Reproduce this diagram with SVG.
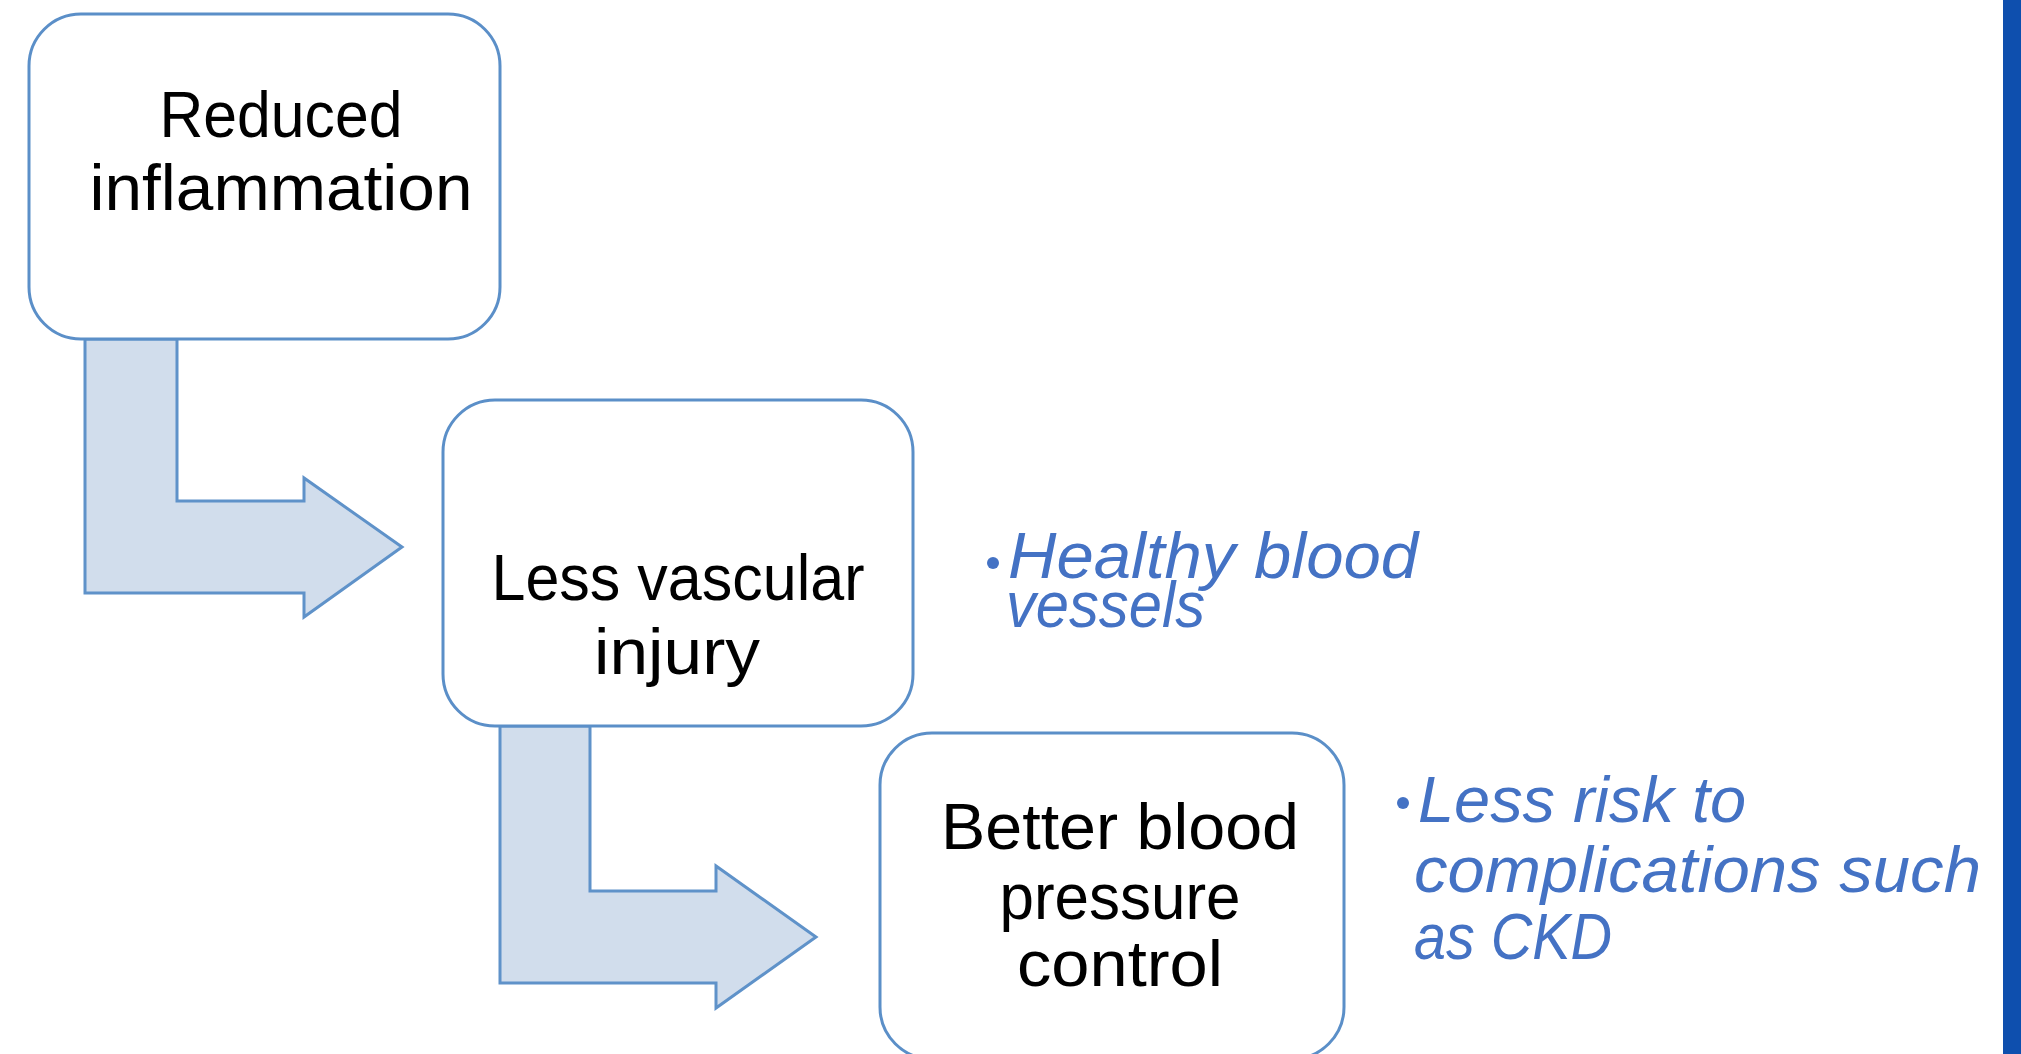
<svg xmlns="http://www.w3.org/2000/svg" width="2021" height="1054" viewBox="0 0 2021 1054">
<style>
.box{fill:#ffffff;stroke:#5b8fc8;stroke-width:3}
.arr{fill:#d1ddec;stroke:#5f92c9;stroke-width:3;stroke-linejoin:miter}
.lbl{font-family:"Liberation Sans",Arial,sans-serif;font-size:65px;fill:#000000;text-anchor:middle}
.note{font-family:"Liberation Sans",Arial,sans-serif;font-style:italic;font-size:64px;fill:#4472c4}
</style>
<rect x="0" y="0" width="2021" height="1054" fill="#ffffff"/>
<rect x="2003" y="0" width="18" height="1054" fill="#0e4fae"/>
<g id="connectors">
<path class="arr" d="M85,339 L177,339 L177,501 L304,501 L304,478 L402,547 L304,617 L304,593 L85,593 Z"/>
<path class="arr" d="M500,726 L590,726 L590,891 L716,891 L716,866 L816,937 L716,1008 L716,983 L500,983 Z"/>
</g>
<g id="node-reduced">
<rect class="box" x="29" y="14" width="471" height="325" rx="52" ry="52"/>
<text class="lbl" x="281" y="137" textLength="243" lengthAdjust="spacingAndGlyphs">Reduced</text>
<text class="lbl" x="281" y="210" textLength="383" lengthAdjust="spacingAndGlyphs">inflammation</text>
</g>
<g id="node-vascular">
<rect class="box" x="443" y="400" width="470" height="326" rx="52" ry="52"/>
<text class="lbl" x="678" y="600" textLength="373" lengthAdjust="spacingAndGlyphs">Less vascular</text>
<text class="lbl" x="677" y="674" textLength="166" lengthAdjust="spacingAndGlyphs">injury</text>
</g>
<g id="node-bp">
<rect class="box" x="880" y="733" width="464" height="326" rx="52" ry="52"/>
<text class="lbl" x="1120" y="849" textLength="358" lengthAdjust="spacingAndGlyphs">Better blood</text>
<text class="lbl" x="1120" y="919" textLength="241" lengthAdjust="spacingAndGlyphs">pressure</text>
<text class="lbl" x="1120" y="986" textLength="206" lengthAdjust="spacingAndGlyphs">control</text>
</g>
<g id="note-vessels">
<circle cx="993" cy="563" r="6" fill="#4472c4"/>
<text class="note" x="1008" y="578" textLength="410" lengthAdjust="spacingAndGlyphs">Healthy blood</text>
<text class="note" x="1006" y="627" textLength="199" lengthAdjust="spacingAndGlyphs">vessels</text>
</g>
<g id="note-ckd">
<circle cx="1403" cy="803" r="6" fill="#4472c4"/>
<text class="note" x="1418" y="822" textLength="328" lengthAdjust="spacingAndGlyphs">Less risk to</text>
<text class="note" x="1414" y="892" textLength="567" lengthAdjust="spacingAndGlyphs">complications  such</text>
<text class="note" x="1414" y="959" textLength="198" lengthAdjust="spacingAndGlyphs">as CKD</text>
</g>
</svg>
